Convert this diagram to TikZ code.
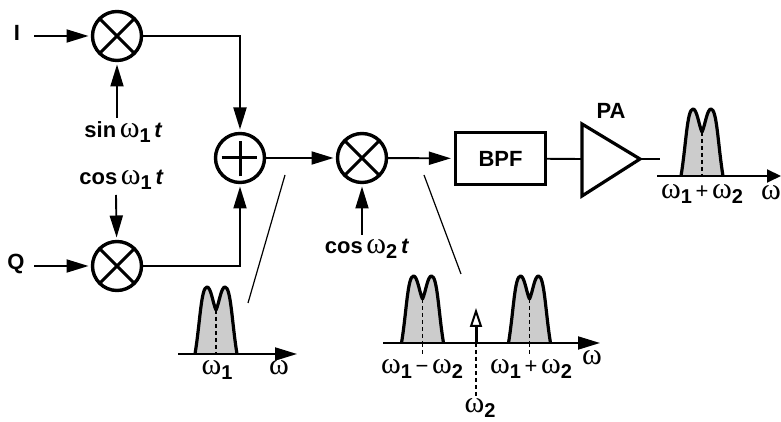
\documentclass[tikz,border=0pt]{standalone}
\usepackage{fontspec}
\setmainfont{Liberation Sans}
\newfontfamily\omfont{Liberation Serif}
\usetikzlibrary{arrows.meta}
\newcommand{\om}{{\fontsize{30}{30}\selectfont\mdseries\omfont ω}}
\newcommand{\idx}[1]{\raisebox{-5pt}{\fontsize{20}{20}\selectfont\bfseries #1}}

\begin{document}
\begin{tikzpicture}[x=1pt, y=1pt,
    wire/.style={line width=1.9pt},
    sig/.style={wire, -{Triangle[length=22pt, width=13pt]}, shorten >=3pt},
    mixer/.style={circle, draw, line width=3.4pt, minimum size=49pt, inner sep=0pt, outer sep=1pt},
    lab/.style={inner sep=0pt, font=\fontsize{22}{22}\selectfont\bfseries},
    freq/.style={inner sep=0pt, font=\fontsize{22}{22}\selectfont},
    slant/.style={line width=1.2pt},
    dots/.style={line width=1.9pt, dash pattern=on 4pt off 3pt},
    hump/.pic={
        \filldraw[fill=gray!40, draw=black, line width=3.2pt, line join=round] (-21,0) .. controls (-16,30) and (-15,67) .. (-9,67) .. controls (-5,67) and (-3,50) .. (0,44) .. controls (3,50) and (5,67) .. (9,67) .. controls (15,67) and (16,30) .. (21,0);
        \draw[dots] (0,44) -- (0,0);
    }]
    \useasboundingbox (0,0) rectangle (781,422);

    % mixers and adder
    \node[mixer] (mixI) at (117,386) {};
    \node[mixer] (mixQ) at (117,156) {};
    \node[mixer] (add) at (240,264) {};
    \node[mixer] (mixUp) at (362,264) {};
    \draw[line width=3pt] (mixI.45) -- (mixI.225) (mixI.135) -- (mixI.315);
    \draw[line width=3pt] (mixQ.45) -- (mixQ.225) (mixQ.135) -- (mixQ.315);
    \draw[line width=3pt] (mixUp.45) -- (mixUp.225) (mixUp.135) -- (mixUp.315);
    \draw[line width=3pt] (add.west) ++(7,0) -- ++(35,0) (add.south) ++(0,7) -- ++(0,35);

    % BPF and PA
    \node[draw, line width=3.2pt, minimum width=90pt, minimum height=52pt, inner sep=0pt, lab] (bpf) at (500.5,263.5) {BPF};
    \coordinate (paT) at (582,298);
    \coordinate (paB) at (582,226);
    \coordinate (paR) at (640,263);
    \draw[line width=3.2pt, line join=miter] (paT) -- (paR) -- (paB) -- cycle;
    \coordinate (paIn) at (582,263);
    \coordinate (paOut) at (660,263);
    \node[lab] (paLab) at (611,311) {PA};

    % inputs
    \node[lab] (lblI) at (17,389) {I};
    \node[lab] (lblQ) at (16,158) {Q};
    \coordinate (inI) at (34,386);
    \coordinate (inQ) at (34,156);
    \coordinate (tapSin) at (117,304);
    \coordinate (tapCos) at (116,227);
    \coordinate (tapUp) at (362,187);
    \node[lab, anchor=base] (sinLab) at (123.5,284) {sin\,\om\idx{1}\,\textit{t}};
    \node[lab, anchor=base] (cosLab) at (121.5,237) {cos\,\om\idx{1}\,\textit{t}};
    \node[lab, anchor=base] (cosUp) at (367,168) {cos\,\om\idx{2}\,\textit{t}};

    \draw[sig] (inI) -- (mixI);
    \draw[sig] (inQ) -- (mixQ);
    \draw[sig] (tapSin) -- (mixI);
    \draw[sig] (tapCos) -- (mixQ);
    \draw[sig] (mixI) -| (add);
    \draw[sig] (mixQ) -| (add);
    \draw[sig] (add) -- (mixUp);
    \draw[sig] (mixUp) -- (bpf);
    \draw[sig] (tapUp) -- (mixUp);
    \draw[wire] (bpf) -- (paIn);
    \draw[wire] (paR) -- (paOut);

    % spectrum after the adder
    \coordinate (axAl) at (178,68);
    \coordinate (axAr) at (297,68);
    \pic at (216,68) {hump};
    \draw[wire, -{Triangle[length=22pt, width=13pt]}] (axAl) -- (axAr);
    \node[freq, anchor=base] (lblA) at (217,47) {\om\idx{1}};
    \node[freq, anchor=base] (omA) at (279,47) {\om};
    \coordinate (slA) at (285,247);
    \coordinate (slB) at (248,119);
    \draw[slant] (slA) -- (slB);

    % spectrum after the upconverter
    \coordinate (axBl) at (383,79);
    \coordinate (axBr) at (600,79);
    \pic at (422.5,79) {hump};
    \pic at (529.5,79) {hump};
    \draw[wire, -{Triangle[length=22pt, width=13pt]}] (axBl) -- (axBr);
    \draw[dots] (422.5,79) -- (422.5,68);
    \draw[dots] (529.5,79) -- (529.5,68);
    \coordinate (toneB) at (476,79);
    \coordinate (toneT) at (476,114);
    \coordinate (toneE) at (476,25);
    \draw[line width=3pt, -{Triangle[open, length=19pt, width=12pt, line width=2pt]}] (toneB) -- (toneT);
    \draw[dots] (toneB) -- (toneE);
    \node[freq, anchor=base] (lblDiff) at (422,48) {\om\idx{1}\,−\,\om\idx{2}};
    \node[freq, anchor=base] (lblSum) at (531,48) {\om\idx{1}\,+\,\om\idx{2}};
    \node[freq, anchor=base] (omB) at (592,57) {\om};
    \node[freq, anchor=base] (lblTone) at (480,9.5) {\om\idx{2}};
    \coordinate (slC) at (424,247);
    \coordinate (slD) at (461,148);
    \draw[slant] (slC) -- (slD);

    % output spectrum
    \coordinate (axCl) at (657,246);
    \coordinate (axCr) at (781,246);
    \pic at (702,246) {hump};
    \draw[wire, -{Triangle[length=14pt, width=13pt]}] (axCl) -- (axCr);
    \node[freq, anchor=base] (lblOut) at (702,223) {\om\idx{1}\,+\,\om\idx{2}};
    \node[freq, anchor=base east] (omC) at (781,222) {\om};
\end{tikzpicture}
\end{document}
